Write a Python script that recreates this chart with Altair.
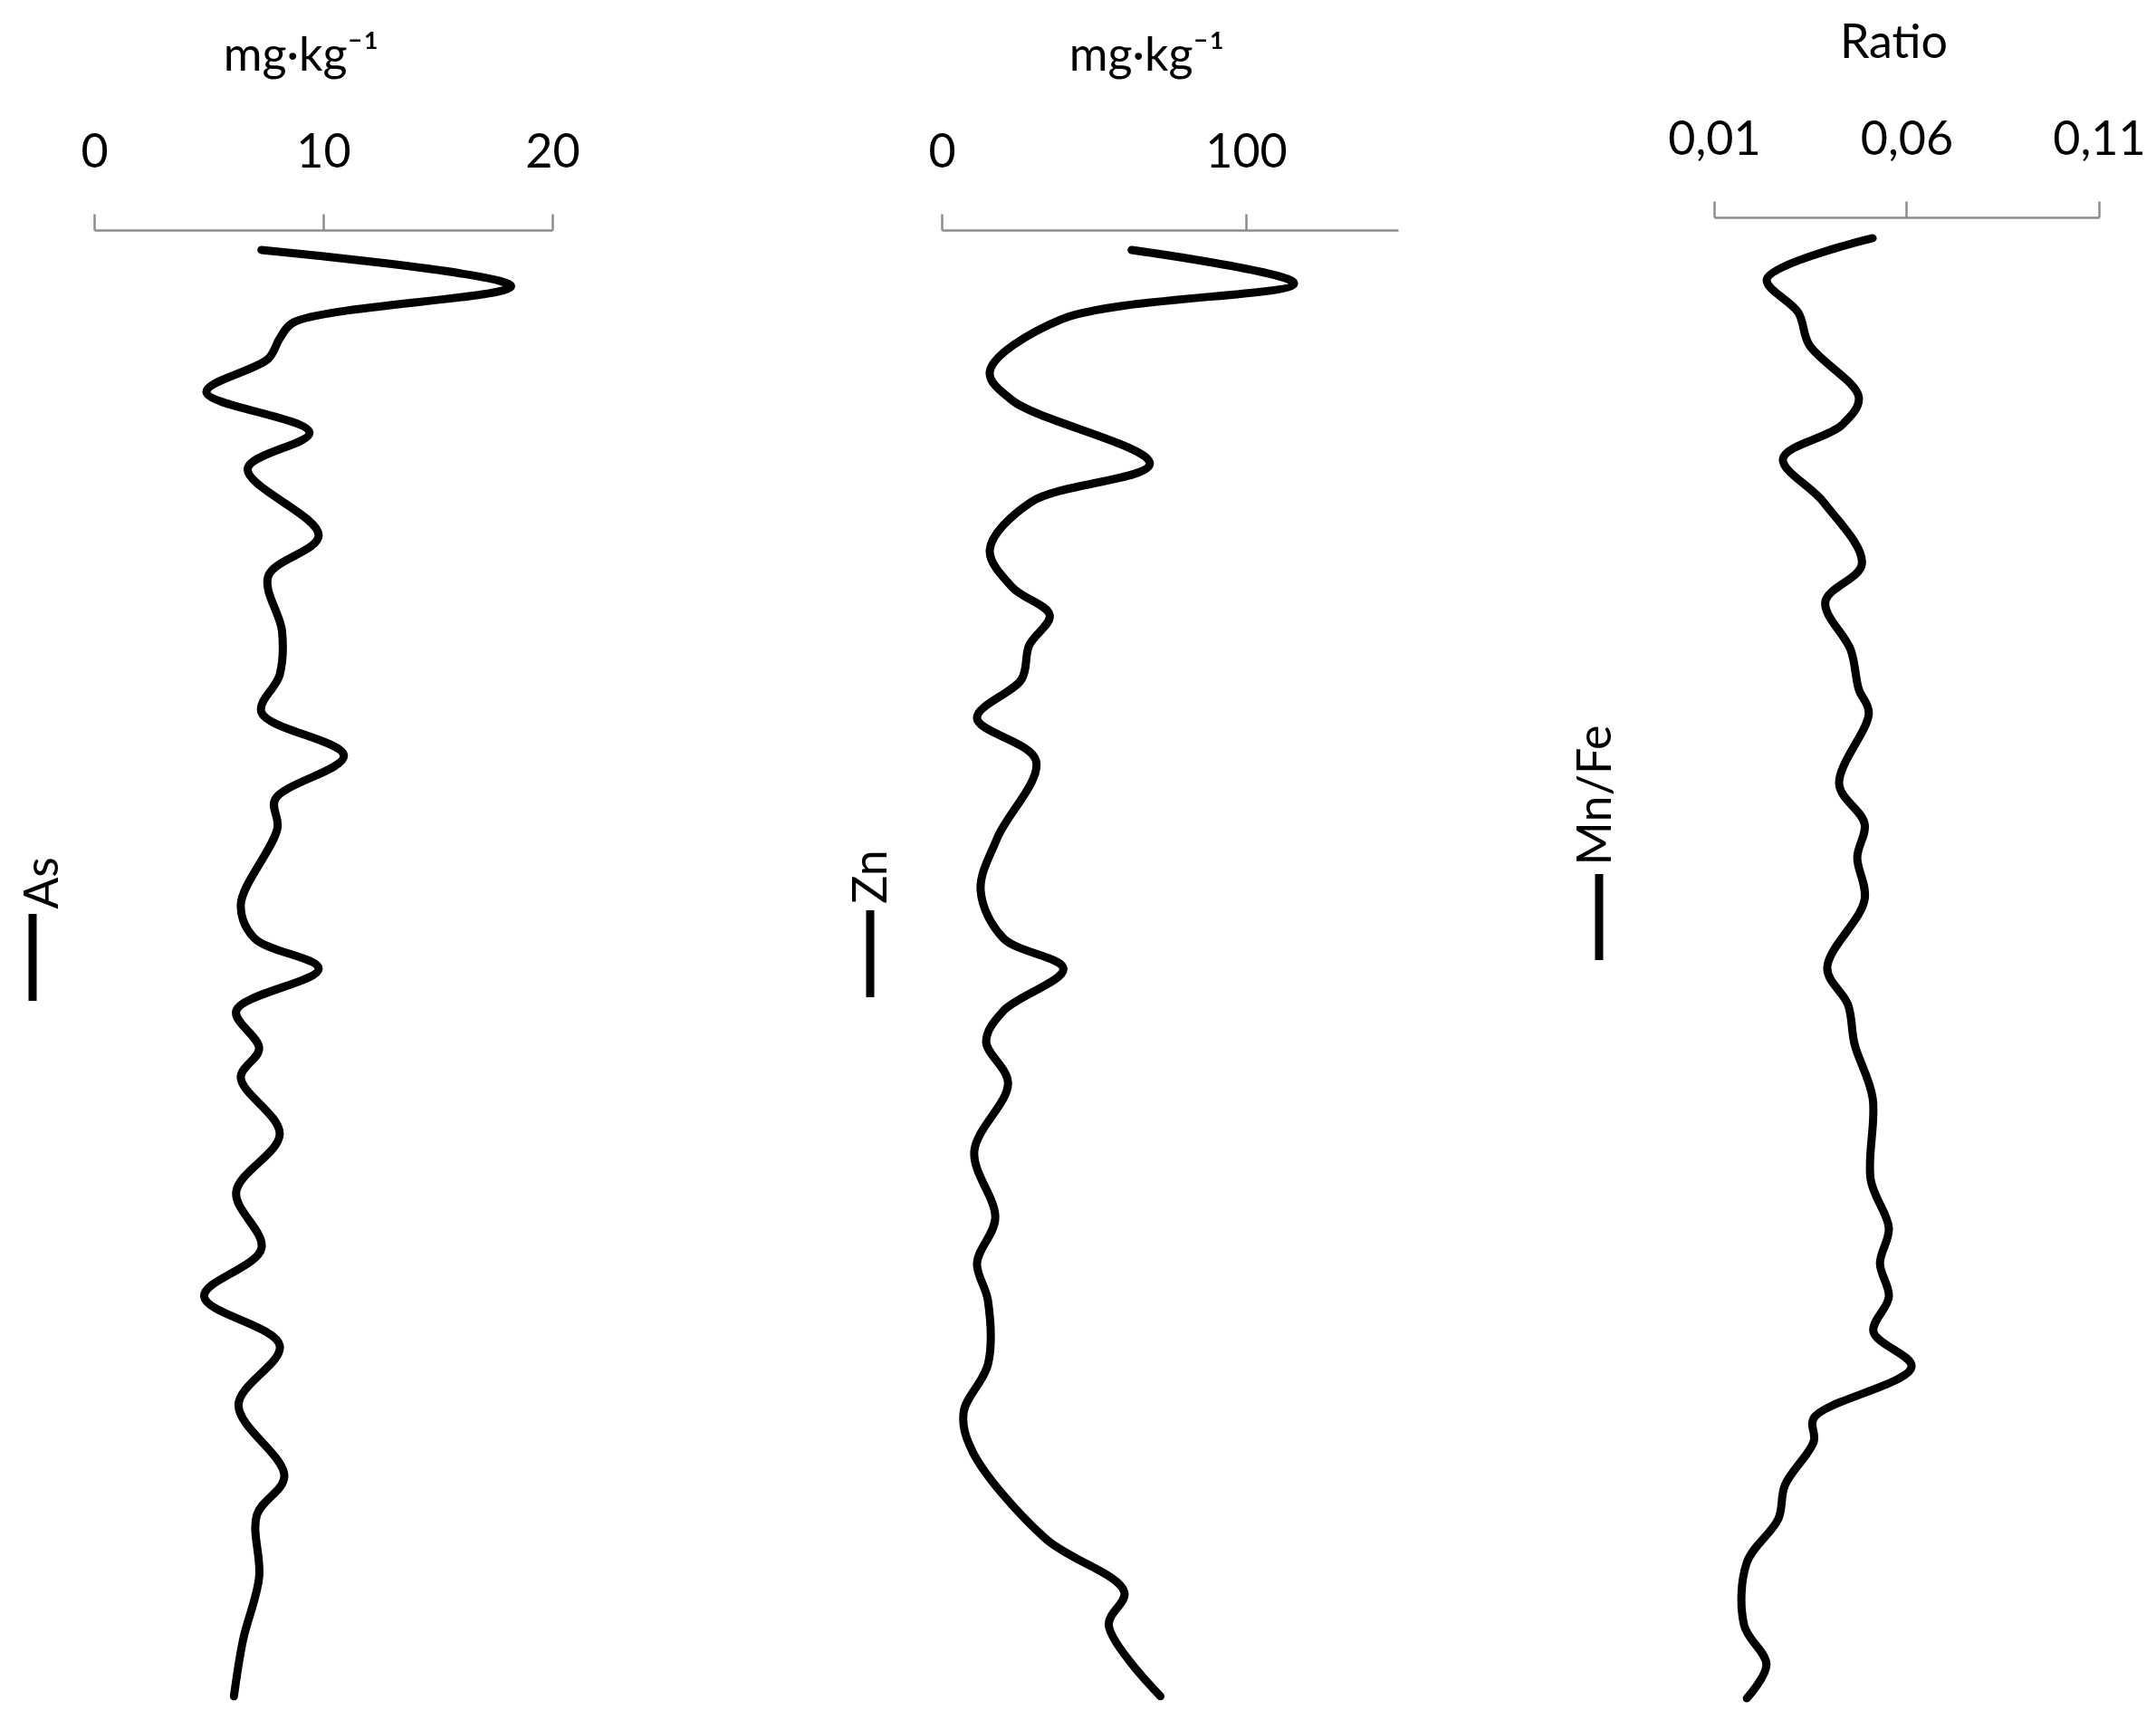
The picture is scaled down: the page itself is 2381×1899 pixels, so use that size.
import altair as alt
import pandas as pd

# ---- As profile (mg·kg-1) ----
as_depth = [0, 2.5, 5.0, 6.1, 7.5, 9.8, 12.6, 15.1, 19.7, 22.5,
            26.3, 29.3, 31.9, 34.9, 37.9, 39.9, 45.2, 47.5, 49.6, 52.5,
            55.1, 57.1, 61.0, 65.0, 68.9, 72.2, 75.6, 79.7, 84.6, 87.3,
            91.6, 95.9, 99.8]
as_value = [7.3, 18.2, 8.7, 8.1, 7.6, 4.9, 9.4, 6.7, 9.8, 7.6,
            8.2, 8.1, 7.3, 10.9, 7.9, 8.0, 6.4, 7.0, 9.8, 6.2,
            7.2, 6.4, 8.1, 6.2, 7.3, 4.8, 8.1, 6.3, 8.3, 7.1,
            7.2, 6.5, 6.1]

# ---- Zn profile (mg·kg-1) ----
zn_depth = [0, 2.3, 4.8, 8.4, 10.4, 14.75, 17.4, 20.7, 23.3, 25.2,
            27.3, 29.6, 32.3, 35.25, 40.6, 44.2, 47.5, 49.6, 52.5, 54.6,
            57.5, 62.2, 66.8, 69.9, 72.5, 76.9, 80.2, 82.9, 88.9, 92.6,
            94.9, 99.8]
zn_value = [62.4, 115.8, 39.1, 15.8, 23.3, 68.4, 29.3, 15.8, 23.3, 35.5,
            28.7, 26.3, 11.6, 31.0, 18.2, 12.8, 20.3, 40.0, 20.3, 14.6,
            21.8, 10.7, 17.6, 11.6, 15.2, 15.2, 7.2, 10.1, 34.0, 60.0,
            54.9, 71.9]

# ---- Mn/Fe ratio ----
mnfe_depth = [0, 2.8, 5.1, 7.3, 10.9, 12.8, 15.1, 18.1, 22.3, 24.9,
              28.2, 30.9, 32.5, 37.4, 40.1, 42.4, 45.3, 50.0, 52.5, 55.2,
              58.9, 64.5, 67.8, 70.2, 72.5, 74.9, 77.3, 80.8, 82.4, 85.4,
              87.7, 90.7, 95.0, 97.7, 100.0]
mnfe_value = [0.0512, 0.0237, 0.0319, 0.0347, 0.0476, 0.0432, 0.0279, 0.0385, 0.0484, 0.0389,
              0.0455, 0.0476, 0.0502, 0.0425, 0.0491, 0.0472, 0.0491, 0.0394, 0.0448, 0.0465,
              0.0512, 0.0507, 0.0554, 0.0531, 0.0554, 0.0514, 0.0613, 0.0359, 0.0359, 0.0284,
              0.0267, 0.0185, 0.0178, 0.0236, 0.0185]

FONT = "Lato"
FS = 52
GREY = "#8c8c8c"
H = 1628
LW = 9


def panel(depth, values, domain, ticks, width, xrange, title, title_x,
          ydomain, label, lx, ly1, ly2, tx, ty, offset=0, label_expr=None):
    df = pd.DataFrame({"depth": depth, "value": values})
    axis_kw = dict(
        orient="top", values=ticks, tickSize=18, tickWidth=2.5, tickColor=GREY,
        domainColor=GREY, domainWidth=2.5, labelFont=FONT, labelFontSize=FS,
        labelColor="black", labelPadding=52, labelBaseline="alphabetic",
        labelFlush=False, labelOverlap=False, title=title, titleFont=FONT,
        titleFontSize=FS, titleFontWeight="normal", titleColor="black",
        titleBaseline="alphabetic", titleAlign="center", titleX=title_x,
        titleY=-177, offset=offset, grid=False,
    )
    if label_expr:
        axis_kw["labelExpr"] = label_expr
    xscale = alt.Scale(domain=domain, range=xrange, nice=False, zero=False)
    line = alt.Chart(df).mark_line(
        interpolate="catmull-rom", color="black", strokeWidth=LW,
        strokeCap="round", strokeJoin="round", clip=False,
    ).encode(
        x=alt.X("value:Q", scale=xscale, axis=alt.Axis(**axis_kw)),
        y=alt.Y("depth:Q", scale=alt.Scale(domain=ydomain, reverse=True, nice=False, zero=False), axis=None),
        order=alt.Order("depth:Q"),
    )
    leg = pd.DataFrame({"label": [label]})
    rule = alt.Chart(leg).mark_rule(color="black", strokeWidth=LW).encode(
        x=alt.value(lx), y=alt.value(ly1), y2=alt.value(ly2)
    )
    text = alt.Chart(leg).mark_text(
        angle=270, align="center", baseline="alphabetic", font=FONT,
        fontSize=FS, color="black",
    ).encode(x=alt.value(tx), y=alt.value(ty), text="label:N")
    return alt.layer(line, rule, text).properties(width=width, height=H)


p1 = panel(as_depth, as_value, [0, 20], [0, 10, 20], 587, [0, 506],
           "mg·kg⁻¹", 228, [-1.375, 100.375], "As", -68, 755, 851, -40, 721)
p2 = panel(zn_depth, zn_value, [0, 150], [0, 100], 504, [0, 504],
           "mg·kg⁻¹", 226, [-1.375, 100.375], "Zn", -79, 751, 847, -61, 714)
p3 = panel(mnfe_depth, mnfe_value, [0.01, 0.11], [0.01, 0.06, 0.11], 425, [0, 425],
           "Ratio", 198, [-0.558, 100.43], "Mn/Fe", -127, 711, 806, -114, 624,
           offset=14,
           label_expr="replace(format(datum.value, '.2f'), '.', ',')")

chart = alt.hconcat(p1, p2, p3, spacing=349, bounds="flush").properties(
    padding={"left": 14, "top": 13, "right": 0, "bottom": 5}
).configure_view(stroke=None)

chart.save("out.html", embed_options={"renderer": "svg", "actions": False})
